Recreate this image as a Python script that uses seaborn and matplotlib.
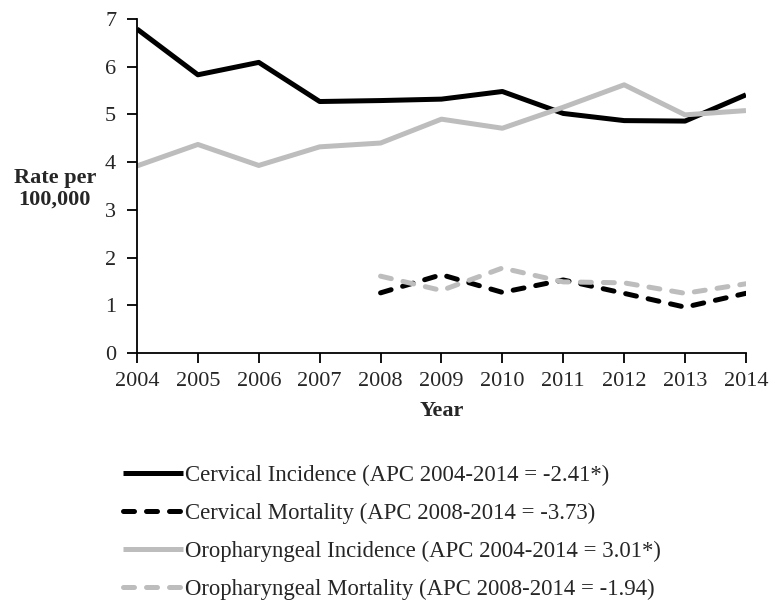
import matplotlib
matplotlib.use("Agg")
import matplotlib.pyplot as plt
import pandas as pd
import seaborn as sns

# --- data --------------------------------------------------------------------
YEARS_INC = list(range(2004, 2015))
YEARS_MORT = list(range(2008, 2015))

CERVICAL_INC = [6.79, 5.83, 6.09, 5.27, 5.29, 5.32, 5.48, 5.02, 4.87, 4.86, 5.41]
OROPH_INC = [3.92, 4.37, 3.93, 4.32, 4.40, 4.90, 4.71, 5.15, 5.62, 4.99, 5.08]
CERVICAL_MORT = [1.26, 1.64, 1.27, 1.53, 1.25, 0.96, 1.25]
OROPH_MORT = [1.61, 1.31, 1.78, 1.49, 1.47, 1.25, 1.45]

LABELS = [
    "Cervical Incidence (APC 2004-2014 = -2.41*)",
    "Cervical Mortality (APC 2008-2014 = -3.73)",
    "Oropharyngeal Incidence (APC 2004-2014 = 3.01*)",
    "Oropharyngeal Mortality (APC 2008-2014 = -1.94)",
]

BLACK, GREY = "#000000", "#bdbdbd"

# --- long-form table ---------------------------------------------------------
frames = []
for label, years, vals in zip(LABELS,
                              [YEARS_INC, YEARS_MORT, YEARS_INC, YEARS_MORT],
                              [CERVICAL_INC, CERVICAL_MORT, OROPH_INC, OROPH_MORT]):
    frames.append(pd.DataFrame({"year": years, "rate": vals, "series": label}))
df = pd.concat(frames, ignore_index=True)

# --- plot --------------------------------------------------------------------
sns.set_style("white")
plt.rcParams["font.family"] = ["Liberation Serif", "DejaVu Serif"]
plt.rcParams["font.size"] = 16

fig = plt.figure(figsize=(7.73, 6.04), dpi=100)
ax = fig.add_axes([0.1772, 0.4156, 0.7878, 0.553])

palette = {LABELS[0]: BLACK, LABELS[1]: BLACK, LABELS[2]: GREY, LABELS[3]: GREY}
dashes = {LABELS[0]: "", LABELS[1]: (2.2, 2.4), LABELS[2]: "", LABELS[3]: (2.2, 2.4)}

sns.lineplot(data=df, x="year", y="rate", hue="series", style="series",
             palette=palette, dashes=dashes, hue_order=LABELS, style_order=LABELS,
             linewidth=3.6, ax=ax, legend=True)
for line in ax.get_lines():
    line.set_dash_capstyle("round")
    line.set_solid_capstyle("butt")

ax.set_xlim(2004, 2014)
ax.set_ylim(0, 7)
ax.set_xticks(YEARS_INC)
ax.set_yticks(range(0, 8))
sns.despine(ax=ax)
for s in ["left", "bottom"]:
    ax.spines[s].set_color("black")
    ax.spines[s].set_linewidth(1.3)
ax.tick_params(axis="both", direction="out", length=7, width=1.3, color="black",
               labelsize=16, bottom=True, left=True)
ax.tick_params(axis="y", pad=8)
ax.tick_params(axis="x", pad=6.5)

ax.set_ylabel("Rate per\n100,000", rotation=0, fontweight="bold", fontsize=16,
              ha="center", va="center", linespacing=1.1)
ax.yaxis.set_label_coords(-0.135, 0.4925)
ax.set_xlabel("Year", fontweight="bold", fontsize=16, va="center")
ax.xaxis.set_label_coords(0.5, -0.175)

handles, labels = ax.get_legend_handles_labels()
ax.legend(handles, labels, loc="upper left", bbox_to_anchor=(0.159, 0.230),
          bbox_transform=fig.transFigure, frameon=False, borderpad=0,
          borderaxespad=0, handlelength=2.63, handletextpad=0.1,
          labelspacing=0.73, fontsize=16.4)
for h in ax.get_legend().get_lines():
    h.set_linewidth(3.6)
    h.set_dash_capstyle("round")

fig.savefig("out.png", dpi=100)
